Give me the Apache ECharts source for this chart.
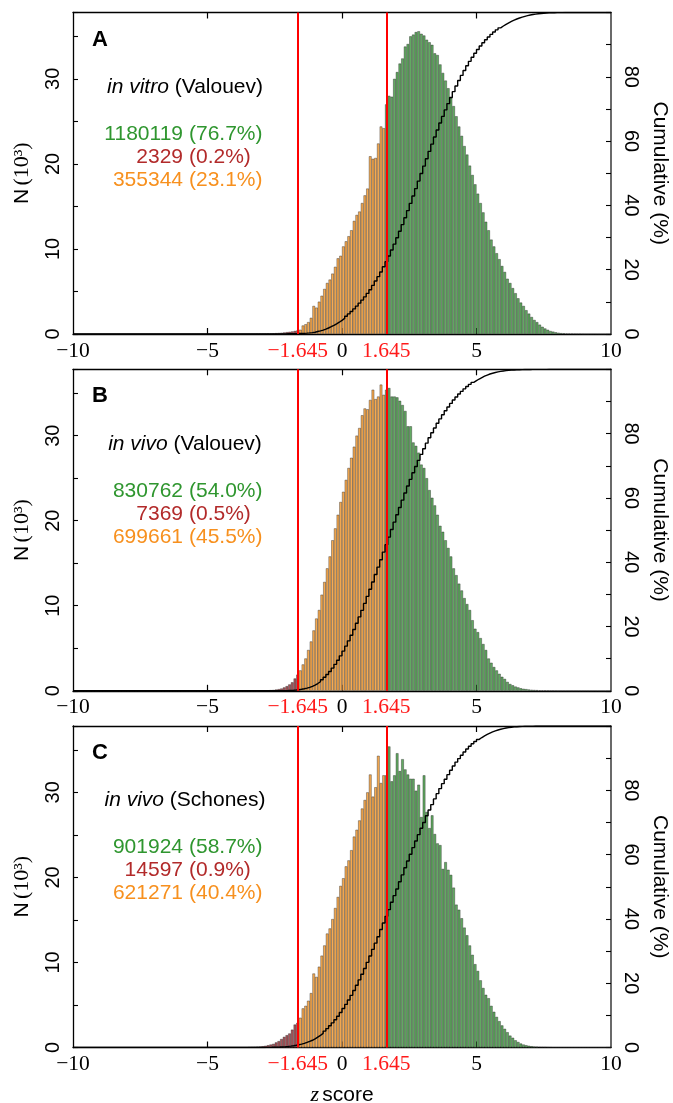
<!DOCTYPE html>
<html><head><meta charset="utf-8">
<script src="https://cdn.jsdelivr.net/npm/echarts@6/dist/echarts.min.js"></script>
<style>html,body{margin:0;padding:0;background:#fff}#c{width:673px;height:1103px}</style>
</head><body><div id="c"></div>
<script>
// ---- data ----
const binStart = -10, binWidth = 0.1, binCount = 200;
const firstDataBin = -3.5; // left edge of first listed bin (all other bins are empty)
// counts per 0.1-wide z bin, in thousands, bins from -3.5 to 8.9
const countsA = [0.01,0.01,0.01,0.02,0.02,0.03,0.04,0.05,0.06,0.08,0.10,0.12,0.15,0.18,0.22,0.26,0.30,0.36,0.42,
 0.5,1.0,1.15,1.4,1.9,3.3,3.1,3.8,4.5,5.3,6.0,6.4,7.1,7.9,8.9,9.2,
 10.3,10.9,11.5,12.2,13.3,14.0,14.4,15.4,16.3,17.1,20.9,20.6,20.7,22.4,24.4,24.2,27.0,
 28.0,27.9,30.0,30.8,31.8,32.4,33.8,34.1,35.0,35.2,35.5,35.6,35.3,35.1,34.6,34.3,34.0,33.0,32.8,31.7,30.7,29.8,28.9,
 27.8,26.8,25.6,24.4,23.3,22.1,21.1,19.8,18.7,17.6,16.5,15.4,14.3,13.2,12.2,11.1,10.3,9.5,8.8,8.0,
 7.3,6.5,6.0,5.4,4.8,4.2,3.7,3.3,2.8,2.4,2.0,1.65,1.4,1.1,0.85,0.65,0.5,0.35,0.28,0.2,
 0.15,0.1,0.08,0.06,0.05,0.04,0.03,0.02,0.02,0.01];
const countsB = [0.01,0.01,0.02,0.02,0.03,0.04,0.05,0.06,0.08,0.1,0.15,0.2,0.27,0.4,0.55,0.75,1.0,1.45,1.9,
 2.4,3.1,3.8,4.8,5.8,7.1,8.5,9.5,11.3,12.8,14.4,15.8,17.7,19.1,20.7,22.2,
 23.4,24.8,26.2,27.4,28.7,30.0,30.9,32.4,33.2,33.1,34.2,35.4,34.3,34.6,36.0,34.8,35.4,
 35.6,34.6,34.6,34.5,34.1,33.6,32.9,31.1,31.1,29.2,28.8,28.0,26.6,26.2,25.0,23.6,22.7,21.8,20.7,19.4,18.7,17.7,16.8,
 15.8,14.4,13.6,12.6,11.8,10.9,10.2,9.5,8.3,7.3,6.9,6.2,5.5,4.8,3.8,3.3,2.8,2.4,2.0,1.65,
 1.4,1.05,0.8,0.65,0.5,0.4,0.3,0.24,0.2,0.15,0.12,0.1,0.08,0.06,0.05,0.04,0.03,0.02,0.02,0.01,
 0,0,0,0,0,0,0,0,0,0];
const countsC = [0.02,0.03,0.05,0.08,0.1,0.15,0.2,0.27,0.35,0.43,0.6,0.75,1.0,1.25,1.45,1.65,2.1,2.7,2.9,
 3.5,4.6,4.9,5.5,6.4,8.7,8.3,9.5,10.8,12.0,13.4,14.0,15.1,16.4,17.7,19.0,
 19.9,21.3,22.0,23.2,24.8,25.6,26.7,28.1,29.1,30.0,32.1,29.5,30.6,34.3,31.1,32.0,32.0,
 35.4,31.3,32.0,34.6,32.5,33.9,32.7,32.1,31.6,31.6,30.2,30.9,27.1,32.0,27.7,25.8,27.3,25.1,24.0,23.8,21.0,21.8,20.9,
 20.3,18.8,16.8,16.2,15.2,14.1,13.2,12.0,10.9,9.8,9.0,7.9,7.0,6.2,5.8,4.9,4.2,3.6,3.1,2.6,
 2.2,1.8,1.4,1.15,0.85,0.65,0.47,0.35,0.27,0.2,0.15,0.1,0.08,0.05,0.04,0.03,0.02,0.01,0,0,
 0,0,0,0,0,0,0,0,0,0];
const panelLetters = ['A','B','C'];
const titleItalic = ['in vitro','in vivo','in vivo'];
const titleRest = [' (Valouev)',' (Valouev)',' (Schones)'];
const greenCounts = ['1180119','830762','901924'];
const greenPct = ['(76.7%)','(54.0%)','(58.7%)'];
const redCounts = ['2329','7369','14597'];
const redPct = ['(0.2%)','(0.5%)','(0.9%)'];
const orangeCounts = ['355344','699661','621271'];
const orangePct = ['(23.1%)','(45.5%)','(40.4%)'];
const thresholds = [-1.645, 1.645];
const xLabelValues = [-10,-5,-1.645,0,1.645,5,10];
const xTickValues = [-5,0,5];
const yLeftMax = 37.8;

// ---- styling / layout ----
const gridTops = [12.5, 369.3, 726];
const gridH = 321.5, gridL = 73, gridR = 62;
const COL_G = '#2f962f', COL_R = '#b22a2a', COL_O = '#f7901e';
const BAR_G = '#62aa62', BAR_R = '#a9545a', BAR_O = '#f7aa50';
const SANS = '"Liberation Sans", Arial, sans-serif';
const SERIF = '"Liberation Serif", "DejaVu Serif", serif';
const FS = 21;

const allCounts = [countsA, countsB, countsC];
const offset = Math.round((firstDataBin - binStart) / binWidth);
const binCats = Array.from({length: binCount}, (_, i) => (binStart + i * binWidth).toFixed(1));

function fullBins(c) {
  return Array.from({length: binCount}, (_, i) => {
    const j = i - offset;
    return (j >= 0 && j < c.length) ? c[j] : 0;
  });
}
function fmtX(v) {
  const s = Math.abs(v).toString();
  return v < 0 ? '\u2212' + s : s;
}

const grid = [], xAxis = [], yAxis = [], series = [], graphic = [];
allCounts.forEach((cnt, p) => {
  const bins = fullBins(cnt);
  grid.push({left: gridL, right: gridR, top: gridTops[p], height: gridH, outerBoundsMode: 'none', containLabel: false});
  xAxis.push({type: 'category', gridIndex: p, data: binCats, show: false, boundaryGap: true});
  xAxis.push({
    type: 'value', gridIndex: p, min: -10, max: 10, interval: 5, position: 'bottom',
    axisLine: {show: true, onZero: false, lineStyle: {color: '#000', width: 1.3}},
    axisTick: {show: true, inside: true, length: 6, customValues: xTickValues, lineStyle: {color: '#000', width: 1.2}},
    axisLabel: {
      show: true, customValues: xLabelValues, margin: 6, color: '#000',
      fontFamily: SERIF, fontSize: 21.5,
      formatter: v => (Math.abs(Math.abs(v) - 1.645) < 1e-6 ? '{r|' + fmtX(v) + '}' : fmtX(v)),
      rich: {r: {color: '#ff1a1a', fontFamily: SERIF, fontSize: 21.5}}
    },
    splitLine: {show: false},
    name: p === 2 ? '{i|z} {s|score}' : '',
    nameLocation: 'middle', nameGap: 37,
    nameTextStyle: {rich: {i: {fontFamily: SERIF, fontStyle: 'italic', fontSize: 22, color: '#000'}, s: {fontFamily: SANS, fontSize: FS, color: '#000'}}}
  });
  xAxis.push({
    type: 'value', gridIndex: p, min: -10, max: 10, interval: 5, position: 'top',
    axisLine: {show: true, onZero: false, lineStyle: {color: '#000', width: 1.3}},
    axisTick: {show: true, inside: true, length: 6, customValues: xTickValues, lineStyle: {color: '#000', width: 1.2}},
    axisLabel: {show: false}, splitLine: {show: false}
  });
  yAxis.push({
    type: 'value', gridIndex: p, min: 0, max: yLeftMax, interval: 5, position: 'left',
    axisLine: {show: true, onZero: false, lineStyle: {color: '#000', width: 1.3}},
    axisTick: {show: true, inside: true, length: 5, lineStyle: {color: '#000', width: 1.1}},
    axisLabel: {show: true, rotate: 90, margin: 10, color: '#000', fontFamily: SANS, fontSize: 20,
      formatter: v => (Math.abs(v % 10) < 1e-9 ? String(v) : '')},
    splitLine: {show: false},
    name: '{s|N} {m|(10\u00B3)}', nameLocation: 'middle', nameGap: 40, nameRotate: 90,
    nameTextStyle: {rich: {s: {fontFamily: SANS, fontSize: FS, color: '#000'}, m: {fontFamily: SERIF, fontSize: 22, color: '#000'}}}
  });
  yAxis.push({
    type: 'value', gridIndex: p, min: 0, max: 100, interval: 10, position: 'right',
    axisLine: {show: true, onZero: false, lineStyle: {color: '#444', width: 1.6}},
    axisTick: {show: true, inside: true, length: 5, lineStyle: {color: '#000', width: 1.1}},
    axisLabel: {show: true, rotate: -90, margin: 10, color: '#000', fontFamily: SANS, fontSize: 20,
      formatter: v => ((v % 20 === 0 && v < 100) ? String(v) : '')},
    splitLine: {show: false},
    name: 'Cumulative (%)', nameLocation: 'middle', nameGap: 38, nameRotate: -90,
    nameTextStyle: {fontFamily: SANS, fontSize: FS, color: '#000'}
  });
  const barData = bins.map((v, i) => {
    const c = binStart + (i + 0.5) * binWidth;
    const col = c < thresholds[0] ? BAR_R : (c > thresholds[1] ? BAR_G : BAR_O);
    return {value: v, itemStyle: {color: col}};
  });
  series.push({
    type: 'bar', xAxisIndex: 3 * p, yAxisIndex: 2 * p, data: barData,
    barCategoryGap: '0%', z: 2, silent: true,
    itemStyle: {borderColor: 'rgba(30,30,30,0.75)', borderWidth: 0.5}
  });
  const total = bins.reduce((a, b) => a + b, 0);
  let run = 0;
  const cum = [[binStart, 0]];
  bins.forEach((v, i) => { run += v; cum.push([binStart + (i + 1) * binWidth, run / total * 100]); });
  series.push({
    type: 'line', xAxisIndex: 3 * p + 1, yAxisIndex: 2 * p + 1, data: cum, step: 'end',
    showSymbol: false, symbol: 'none', z: 3, silent: true,
    lineStyle: {color: '#000', width: 1.4},
    markLine: {
      silent: true, symbol: ['none', 'none'], label: {show: false},
      lineStyle: {color: '#ff0000', width: 2, type: 'solid'},
      data: thresholds.map(t => ({xAxis: t}))
    }
  });
  const T = gridTops[p];
  graphic.push({type: 'text', x: 92, y: T + 27, style: {text: panelLetters[p], font: 'bold 22px ' + SANS, fill: '#000', verticalAlign: 'middle'}});
  graphic.push({type: 'text', x: 185, y: T + 74.5, style: {
    text: '{i|' + titleItalic[p] + '}{n|' + titleRest[p] + '}', align: 'center', verticalAlign: 'middle',
    rich: {i: {font: 'italic ' + FS + 'px ' + SANS, fill: '#000'}, n: {font: FS + 'px ' + SANS, fill: '#000'}}}});
  const rows = [[greenCounts[p], greenPct[p], COL_G], [redCounts[p], redPct[p], COL_R], [orangeCounts[p], orangePct[p], COL_O]];
  rows.forEach((r, k) => {
    const y = T + 121.5 + k * 23;
    graphic.push({type: 'text', x: 183, y: y, style: {text: r[0], font: FS + 'px ' + SANS, fill: r[2], align: 'right', verticalAlign: 'middle'}});
    graphic.push({type: 'text', x: 189, y: y, style: {text: r[1], font: FS + 'px ' + SANS, fill: r[2], align: 'left', verticalAlign: 'middle'}});
  });
});

const chart = echarts.init(document.getElementById('c'), null, {renderer: 'canvas'});
chart.setOption({animation: false, backgroundColor: '#fff', grid, xAxis, yAxis, series, graphic});
</script></body></html>
